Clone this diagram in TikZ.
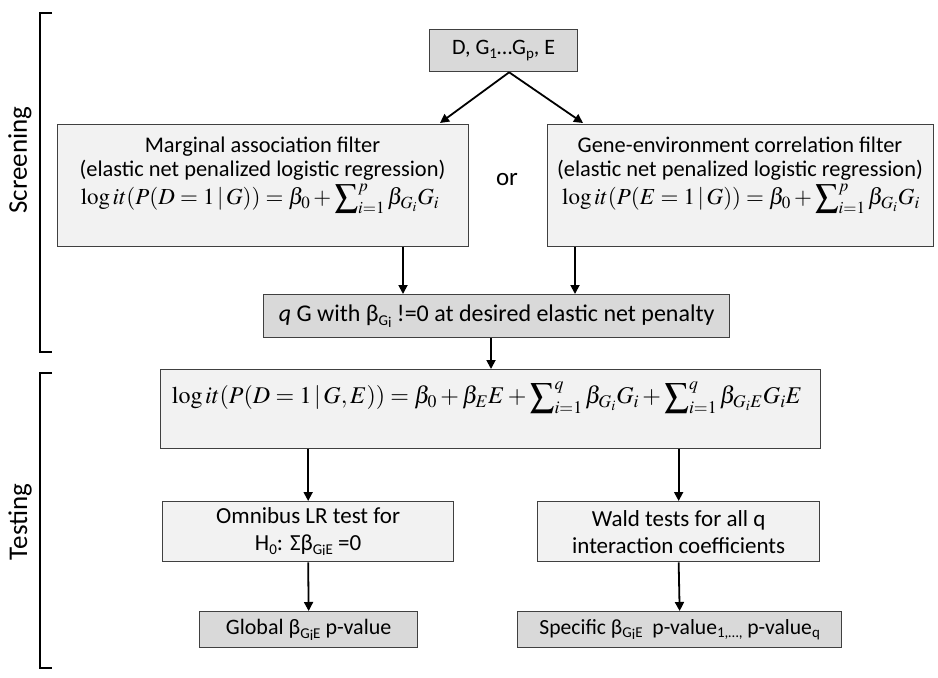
\documentclass[tikz,border=0pt]{standalone}
\usepackage{mathptmx}
\usepackage[no-math]{fontspec}
\setmainfont{Carlito}
\usetikzlibrary{arrows.meta}
\newcommand{\sbs}[1]{\raisebox{-0.35ex}{\fontsize{15}{15}\selectfont #1}}
\newcommand{\lowi}{\raisebox{-0.25ex}{i}}
\definecolor{boxdark}{HTML}{D9D9D9}
\definecolor{boxlight}{HTML}{F2F2F2}
\definecolor{edgec}{HTML}{404040}
\begin{document}
\begin{tikzpicture}[x=1pt,y=-1pt,
  box/.style={draw=edgec, line width=1.3pt, inner sep=0pt, anchor=north west, align=center,
    font=\fontsize{22}{26}\selectfont},
  darkbox/.style={box, fill=boxdark},
  lightbox/.style={box, fill=boxlight},
  txt/.style={align=center, inner sep=0pt, font=\fontsize{22.4}{23.5}\selectfont},
  mth/.style={inner sep=0pt, font=\fontsize{23}{28}\selectfont},
  arr/.style={-{Triangle[length=9pt,width=9pt]}, line width=1.8pt},
  brk/.style={line width=1.6pt},
  side/.style={rotate=90, font=\fontsize{27}{27}\selectfont}
]
\useasboundingbox (0,0) rectangle (938,678);

% brackets
\draw[brk] (52,13) -- (40,13) -- (40,352) -- (52,352);
\draw[brk] (52,373) -- (40,373) -- (40,668) -- (52,668);
\node[side] (scr) at (20,160) {Screening};
\node[side] (tst) at (20,522) {Testing};

% top box
\node[darkbox, minimum width=148pt, minimum height=42pt, font=\fontsize{22}{26}\selectfont] (tb) at (429,29) {D, G\sbs{1}…G\sbs{p}, E};

% filter boxes
\node[lightbox, minimum width=411pt, minimum height=122pt] (lf) at (57,124) {};
\node[txt] (lft) at (262.5,158.5) {Marginal association filter\\(elastic net penalized logistic regression)};
\node[mth] (lfm) at (260,199) {$\displaystyle \log it(P(D=1\,|\,G)) = \beta_0 + \sum\nolimits_{i=1}^{p}\beta_{G_i}G_i$};

\node[lightbox, minimum width=386pt, minimum height=122pt] (rf) at (547,124) {};
\node[txt] (rft) at (740,158.5) {Gene-environment correlation filter\\(elastic net penalized logistic regression)};
\node[mth] (rfm) at (741,199) {$\displaystyle \log it(P(E=1\,|\,G)) = \beta_0 + \sum\nolimits_{i=1}^{p}\beta_{G_i}G_i$};

\node[txt, font=\fontsize{25}{25}\selectfont] (or) at (507,180) {or};

% q box
\node[darkbox, minimum width=466pt, minimum height=43pt, font=\fontsize{24}{28}\selectfont] (qb) at (263,294) {\textit{q} G with β\sbs{G\lowi} !=0 at desired elastic net penalty};

% model box
\node[lightbox, minimum width=660pt, minimum height=79pt] (mb) at (160,369) {};
\node[mth, font=\fontsize{24}{28}\selectfont] (mbm) at (487,398) {$\displaystyle \log it(P(D=1\,|\,G,E)) = \beta_0 + \beta_E E + \sum\nolimits_{i=1}^{q}\beta_{G_i}G_i + \sum\nolimits_{i=1}^{q}\beta_{G_iE}G_iE$};

% testing boxes
\node[lightbox, minimum width=291pt, minimum height=60pt, font=\fontsize{23}{27}\selectfont] (om) at (162,501) {Omnibus LR test for\\H\sbs{0}: Σβ\sbs{G\lowi E} =0};
\node[lightbox, minimum width=282pt, minimum height=60pt, font=\fontsize{23}{27}\selectfont] (wd) at (537,501) {Wald tests for all q\\interaction coefficients};
\node[darkbox, minimum width=218pt, minimum height=36pt] (gl) at (199,611) {Global β\sbs{G\lowi E} p-value};
\node[darkbox, minimum width=324pt, minimum height=36pt, font=\fontsize{21.6}{24}\selectfont] (sp) at (517,611) {Specific β\sbs{G\lowi E}\ \ p-value\sbs{1,…,} p-value\sbs{q}};

% arrows
\path ([xshift=5.5pt]tb.south) coordinate (apex);
\path (440,123) coordinate (lfin);
\path (583,123) coordinate (rfin);
\draw[arr] (apex) -- (lfin);
\draw[arr] (apex) -- (rfin);

\path (lf.south -| 403,0) coordinate (l1);
\path (rf.south -| 575,0) coordinate (r1);
\draw[arr] (l1) -- (l1 |- qb.north);
\draw[arr] (r1) -- (r1 |- qb.north);

\path (qb.south -| 491,0) coordinate (q1);
\draw[arr] (q1) -- (q1 |- mb.north);

\path (mb.south -| om.north) coordinate (m1);
\path (mb.south -| wd.north) coordinate (m2);
\draw[arr] (m1) -- (om.north);
\draw[arr] (m2) -- (wd.north);

\draw[arr] (om.south) -- (gl.north);
\draw[arr] (wd.south) -- (sp.north);
\end{tikzpicture}
\end{document}
